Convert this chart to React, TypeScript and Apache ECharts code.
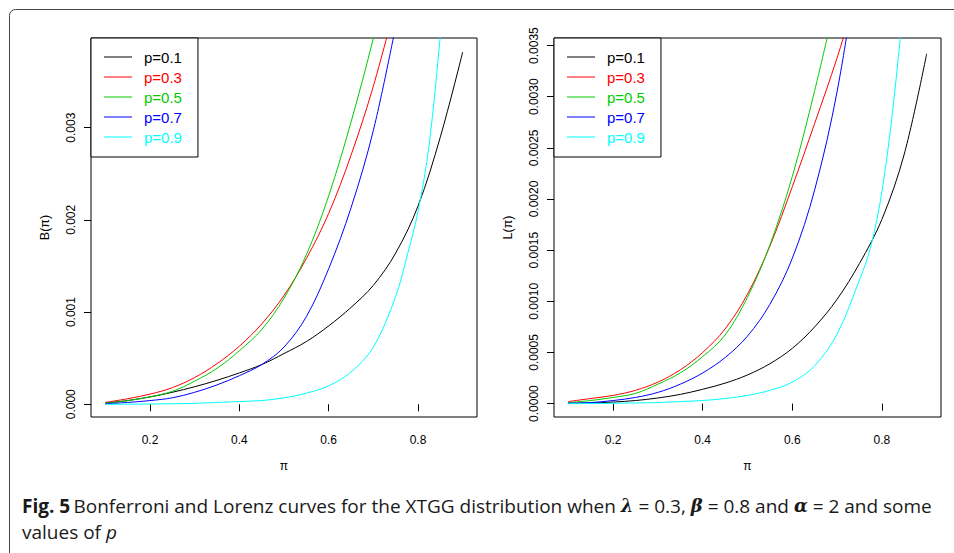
import React, { useEffect, useRef } from "react";
import * as echarts from "echarts";

const X_STEPS = [0.1, 0.15, 0.2, 0.25, 0.3, 0.35, 0.4, 0.45, 0.5, 0.55, 0.6, 0.65, 0.7, 0.75, 0.8, 0.85, 0.9];
const X_CYAN = [0.1, 0.15, 0.2, 0.25, 0.3, 0.35, 0.4, 0.45, 0.5, 0.55, 0.6, 0.65, 0.7, 0.75, 0.775, 0.8, 0.825, 0.85, 0.875];

const P_LABELS = ["p=0.1", "p=0.3", "p=0.5", "p=0.7", "p=0.9"];
const P_COLORS = ["#000000", "#FF0000", "#00CD00", "#0000FF", "#00FFFF"];

const X_TICKS = [0.2, 0.4, 0.6, 0.8];
const B_TICKS = [0, 0.001, 0.002, 0.003];
const L_TICKS = [0, 0.0005, 0.001, 0.0015, 0.002, 0.0025, 0.003, 0.0035];

// Bonferroni curve B(pi)
const B_P01 = [0.000015, 0.00004, 0.00008, 0.00013, 0.00019, 0.00026, 0.00034, 0.00043, 0.00055, 0.00068, 0.00085, 0.00105, 0.00129, 0.00164, 0.00215, 0.0029, 0.00382];
const B_P03 = [0.00002, 0.00006, 0.00011, 0.00018, 0.00029, 0.00044, 0.00063, 0.00087, 0.00118, 0.00158, 0.00207, 0.0027, 0.00345, 0.00435, null, null, null];
const B_P05 = [0.00001, 0.00004, 0.00008, 0.00014, 0.00025, 0.00039, 0.00058, 0.00081, 0.00115, 0.00162, 0.00226, 0.00306, 0.00397, 0.005, null, null, null];
const B_P07 = [0.000005, 0.00002, 0.00004, 0.00007, 0.00013, 0.00021, 0.00031, 0.00043, 0.00062, 0.00095, 0.00147, 0.00213, 0.00297, 0.0041, null, null, null];
const B_P09 = [0, 0.000001, 0.000003, 0.000006, 0.00001, 0.00002, 0.00003, 0.00004, 0.00007, 0.00012, 0.0002, 0.00035, 0.00062, 0.00117, 0.0016, 0.00209, 0.00282, 0.004, 0.0053];

// Lorenz curve L(pi)
const L_P01 = [0.000001, 0.000006, 0.000015, 0.00003, 0.000055, 0.00009, 0.00014, 0.0002, 0.00028, 0.00039, 0.00054, 0.00075, 0.00102, 0.00137, 0.0018, 0.00244, 0.00342];
const L_P03 = [0.00002, 0.00005, 0.00008, 0.00013, 0.00021, 0.00033, 0.0005, 0.00073, 0.00107, 0.00154, 0.00212, 0.00274, 0.00338, 0.0041, null, null, null];
const L_P05 = [0.00001, 0.00003, 0.00006, 0.0001, 0.00019, 0.0003, 0.00046, 0.00067, 0.00104, 0.00155, 0.00222, 0.00306, 0.004, null, null, null, null];
const L_P07 = [0.000005, 0.00001, 0.00003, 0.00006, 0.00011, 0.00019, 0.0003, 0.00045, 0.00066, 0.00097, 0.00142, 0.00209, 0.00305, 0.0044, null, null, null];
const L_P09 = [0, 0.000001, 0.000003, 0.000006, 0.00001, 0.00002, 0.00003, 0.00005, 0.00008, 0.00013, 0.00021, 0.00037, 0.00068, 0.00121, 0.00153, 0.00207, 0.0029, 0.004, 0.0053];

const FONT = "Liberation Sans";
const CAP_FONT = "Open Sans";

function pairs(xs: number[], ys: (number | null)[]) {
  return xs.map((x, i) => [x, ys[i]]);
}

export default function App() {
  const ref = useRef<HTMLDivElement>(null);
  useEffect(() => {
    if (!ref.current) return;
    const chart = echarts.init(ref.current, null, { renderer: "svg" });

    const bSeries = [B_P01, B_P03, B_P05, B_P07, B_P09];
    const lSeries = [L_P01, L_P03, L_P05, L_P07, L_P09];

    const mkSeries = (data: (number | null)[], idx: number, i: number) => ({
      type: "line",
      name: P_LABELS[i],
      xAxisIndex: idx,
      yAxisIndex: idx,
      data: i === 4 ? pairs(X_CYAN, data) : pairs(X_STEPS, data),
      symbol: "none",
      smooth: 0.35,
      clip: true,
      lineStyle: { color: P_COLORS[i], width: 1 },
      itemStyle: { color: P_COLORS[i] },
    });

    const series: any[] = [];
    bSeries.forEach((d, i) => series.push(mkSeries(d, 0, i)));
    lSeries.forEach((d, i) => series.push(mkSeries(d, 1, i)));

    const xAxisBase = (gridIndex: number) => ({
      type: "value",
      gridIndex,
      min: 0.068,
      max: 0.932,
      name: "π",
      nameLocation: "middle",
      nameGap: 43,
      nameTextStyle: { fontFamily: FONT, fontSize: 12, color: "#000" },
      axisLine: { show: false },
      axisTick: { show: true, length: 7, customValues: X_TICKS, lineStyle: { color: "#000" } },
      axisLabel: {
        customValues: X_TICKS,
        formatter: (v: number) => v.toFixed(1),
        margin: 17,
        fontFamily: FONT,
        fontSize: 12,
        color: "#000",
      },
      splitLine: { show: false },
    });

    const yAxisBase = (gridIndex: number, min: number, max: number, ticks: number[], digits: number, name: string) => ({
      type: "value",
      gridIndex,
      min,
      max,
      name,
      nameLocation: "middle",
      nameGap: 40,
      nameTextStyle: { fontFamily: FONT, fontSize: 12.5, color: "#000" },
      axisLine: { show: false },
      axisTick: { show: true, length: 7, customValues: ticks, lineStyle: { color: "#000" } },
      axisLabel: {
        customValues: ticks,
        formatter: (v: number) => v.toFixed(digits),
        rotate: 90,
        margin: 14,
        fontFamily: FONT,
        fontSize: 12,
        color: "#000",
      },
      splitLine: { show: false },
    });

    const legendBase = (left: number) => ({
      left,
      top: 38,
      orient: "vertical",
      backgroundColor: "#fff",
      borderColor: "#000",
      borderWidth: 1,
      padding: [9, 16, 10, 13],
      itemGap: 0,
      itemWidth: 28,
      itemHeight: 1,
      icon: "rect",
      selectedMode: false,
      textStyle: { fontFamily: FONT, fontSize: 15, lineHeight: 20, padding: [0, 0, 0, 7] },
      data: P_LABELS.map((n, i) => ({ name: n, textStyle: { color: P_COLORS[i] }, itemStyle: { color: P_COLORS[i] } })),
    });

    chart.setOption({
      animation: false,
      backgroundColor: "#fff",
      grid: [
        { left: 91, top: 38, width: 386, height: 379, show: true, borderColor: "#000", borderWidth: 1, backgroundColor: "transparent" },
        { left: 554, top: 38, width: 387, height: 379, show: true, borderColor: "#000", borderWidth: 1, backgroundColor: "transparent" },
      ],
      xAxis: [xAxisBase(0), xAxisBase(1)],
      yAxis: [
        yAxisBase(0, -0.000138, 0.003972, B_TICKS, 3, "B(π)"),
        yAxisBase(1, -0.000131, 0.003574, L_TICKS, 4, "L(π)"),
      ],
      legend: [legendBase(91), legendBase(554)],
      series,
      graphic: [
        {
          type: "rect",
          silent: true,
          shape: { x: 9.5, y: 9.5, width: 1000, height: 700, r: 6 },
          style: { fill: "none", stroke: "#444", lineWidth: 1 },
          z: -10,
        },
        {
          type: "text",
          left: 22,
          top: 496,
          style: {
            text:
              "{b|Fig. 5} {n|Bonferroni and Lorenz curves for the XTGG distribution when }{m|λ}{n| = 0.3, }{m|β}{n| = 0.8 and }{m|α}{n| = 2 and some}",
            rich: {
              b: { fontFamily: CAP_FONT, fontWeight: "bold", fontSize: 19, fill: "#1a1a1a" },
              n: { fontFamily: CAP_FONT, fontSize: 19, fill: "#1a1a1a" },
              m: { fontFamily: "DejaVu Serif", fontStyle: "italic", fontWeight: "bold", fontSize: 18, fill: "#1a1a1a" },
            },
          },
        },
        {
          type: "text",
          left: 22,
          top: 522,
          style: {
            text: "{n|values of }{i|p}",
            rich: {
              n: { fontFamily: CAP_FONT, fontSize: 19, fill: "#1a1a1a" },
              i: { fontFamily: CAP_FONT, fontStyle: "italic", fontSize: 19, fill: "#1a1a1a" },
            },
          },
        },
      ],
    });

    return () => chart.dispose();
  }, []);

  return (
    <div
      ref={ref}
      style={{ position: "fixed", left: 0, top: 0, width: 954, height: 553, background: "#fff" }}
    />
  );
}
